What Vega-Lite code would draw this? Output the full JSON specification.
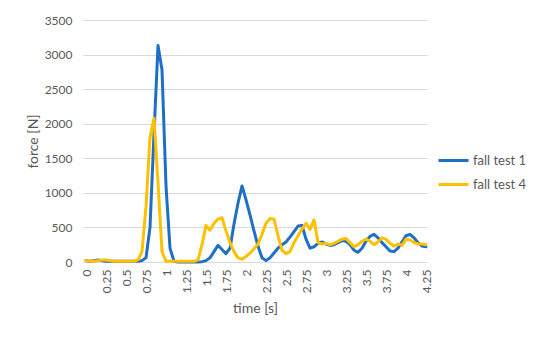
{
  "$schema": "https://vega.github.io/schema/vega-lite/v6.json",
  "width": 344,
  "height": 242,
  "autosize": {"type": "none"},
  "padding": {"left": 83, "top": 20, "right": 123, "bottom": 79},
  "background": "white",
  "config": {
    "font": "Lato",
    "view": {"stroke": null},
    "axis": {"labelColor": "#595959", "titleColor": "#595959", "labelFont": "Lato", "titleFont": "Lato", "titleFontWeight": "normal"}
  },
  "data": {
    "values": [
      {"t": 0, "a": 20, "b": 20},
      {"t": 0.05, "a": 10, "b": 10},
      {"t": 0.1, "a": 20, "b": 10},
      {"t": 0.15, "a": 30, "b": 20},
      {"t": 0.2, "a": 20, "b": 30},
      {"t": 0.25, "a": 10, "b": 30},
      {"t": 0.3, "a": 10, "b": 20},
      {"t": 0.35, "a": 10, "b": 10},
      {"t": 0.4, "a": 10, "b": 10},
      {"t": 0.45, "a": 10, "b": 10},
      {"t": 0.5, "a": 10, "b": 10},
      {"t": 0.55, "a": 10, "b": 10},
      {"t": 0.6, "a": 10, "b": 10},
      {"t": 0.65, "a": 10, "b": 30},
      {"t": 0.7, "a": 20, "b": 150},
      {"t": 0.75, "a": 60, "b": 800},
      {"t": 0.8, "a": 500, "b": 1800},
      {"t": 0.85, "a": 1850, "b": 2080},
      {"t": 0.9, "a": 3130, "b": 1150},
      {"t": 0.95, "a": 2780, "b": 150},
      {"t": 1.0, "a": 1100, "b": 10},
      {"t": 1.05, "a": 200, "b": 10},
      {"t": 1.1, "a": 10, "b": 10},
      {"t": 1.15, "a": 0, "b": 10},
      {"t": 1.2, "a": 0, "b": 10},
      {"t": 1.25, "a": 0, "b": 10},
      {"t": 1.3, "a": 0, "b": 10},
      {"t": 1.35, "a": 0, "b": 10},
      {"t": 1.4, "a": 0, "b": 30},
      {"t": 1.45, "a": 5, "b": 250},
      {"t": 1.5, "a": 20, "b": 530},
      {"t": 1.55, "a": 60, "b": 460},
      {"t": 1.6, "a": 150, "b": 560},
      {"t": 1.65, "a": 240, "b": 620},
      {"t": 1.7, "a": 180, "b": 640},
      {"t": 1.75, "a": 120, "b": 450},
      {"t": 1.8, "a": 200, "b": 280},
      {"t": 1.85, "a": 550, "b": 150},
      {"t": 1.9, "a": 850, "b": 60},
      {"t": 1.95, "a": 1100, "b": 40},
      {"t": 2.0, "a": 900, "b": 80},
      {"t": 2.05, "a": 680, "b": 130},
      {"t": 2.1, "a": 450, "b": 190},
      {"t": 2.15, "a": 230, "b": 260},
      {"t": 2.2, "a": 60, "b": 400},
      {"t": 2.25, "a": 20, "b": 560},
      {"t": 2.3, "a": 60, "b": 630},
      {"t": 2.35, "a": 130, "b": 620},
      {"t": 2.4, "a": 200, "b": 380},
      {"t": 2.45, "a": 250, "b": 170},
      {"t": 2.5, "a": 290, "b": 120},
      {"t": 2.55, "a": 360, "b": 150},
      {"t": 2.6, "a": 440, "b": 280},
      {"t": 2.65, "a": 520, "b": 380},
      {"t": 2.7, "a": 530, "b": 480},
      {"t": 2.75, "a": 330, "b": 560},
      {"t": 2.8, "a": 200, "b": 470},
      {"t": 2.85, "a": 220, "b": 610},
      {"t": 2.9, "a": 270, "b": 280},
      {"t": 2.95, "a": 290, "b": 260},
      {"t": 3.0, "a": 260, "b": 270},
      {"t": 3.05, "a": 240, "b": 250},
      {"t": 3.1, "a": 250, "b": 270},
      {"t": 3.15, "a": 280, "b": 300},
      {"t": 3.2, "a": 310, "b": 330},
      {"t": 3.25, "a": 300, "b": 340},
      {"t": 3.3, "a": 250, "b": 280},
      {"t": 3.35, "a": 170, "b": 220},
      {"t": 3.4, "a": 140, "b": 250},
      {"t": 3.45, "a": 200, "b": 300},
      {"t": 3.5, "a": 300, "b": 330},
      {"t": 3.55, "a": 370, "b": 300},
      {"t": 3.6, "a": 400, "b": 250},
      {"t": 3.65, "a": 350, "b": 290},
      {"t": 3.7, "a": 280, "b": 350},
      {"t": 3.75, "a": 220, "b": 330},
      {"t": 3.8, "a": 160, "b": 270},
      {"t": 3.85, "a": 150, "b": 230},
      {"t": 3.9, "a": 200, "b": 260},
      {"t": 3.95, "a": 290, "b": 240},
      {"t": 4.0, "a": 380, "b": 330},
      {"t": 4.05, "a": 400, "b": 320},
      {"t": 4.1, "a": 350, "b": 280},
      {"t": 4.15, "a": 280, "b": 260},
      {"t": 4.2, "a": 230, "b": 260},
      {"t": 4.25, "a": 220, "b": 250}
    ]
  },
  "transform": [
    {"fold": ["a", "b"], "as": ["key", "force"]},
    {"lookup": "key", "from": {"data": {"values": [{"key": "a", "series": "fall test 1"}, {"key": "b", "series": "fall test 4"}]}, "key": "key", "fields": ["series"]}}
  ],
  "mark": {"type": "line", "strokeWidth": 3, "strokeCap": "round", "strokeJoin": "round"},
  "encoding": {
    "x": {
      "field": "t",
      "type": "quantitative",
      "scale": {"domain": [-0.0375, 4.2625], "nice": false, "zero": false},
      "axis": {
        "title": "time [s]",
        "titleFontSize": 14,
        "titlePadding": 9,
        "values": [0, 0.25, 0.5, 0.75, 1, 1.25, 1.5, 1.75, 2, 2.25, 2.5, 2.75, 3, 3.25, 3.5, 3.75, 4, 4.25],
        "labelExpr": "'' + datum.value",
        "labelAngle": -90,
        "labelFontSize": 12,
        "labelPadding": 7,
        "labelFlush": false,
        "labelOverlap": false,
        "ticks": false,
        "grid": false,
        "domainColor": "#d9d9d9",
        "domainWidth": 1
      }
    },
    "y": {
      "field": "force",
      "type": "quantitative",
      "scale": {"domain": [0, 3500], "nice": false},
      "axis": {
        "title": "force [N]",
        "titleFontSize": 14,
        "titlePadding": 4,
        "values": [0, 500, 1000, 1500, 2000, 2500, 3000, 3500],
        "format": "d",
        "labelFontSize": 12,
        "labelPadding": 11,
        "ticks": false,
        "domain": false,
        "gridColor": "#d9d9d9",
        "gridWidth": 1
      }
    },
    "color": {
      "field": "series",
      "type": "nominal",
      "scale": {"domain": ["fall test 1", "fall test 4"], "range": ["#1f6fc5", "#ffc000"]},
      "legend": {
        "title": null,
        "orient": "none",
        "legendX": 354,
        "legendY": 124,
        "symbolType": "stroke",
        "symbolSize": 900,
        "symbolStrokeWidth": 3,
        "labelFontSize": 13,
        "labelColor": "#595959",
        "labelFont": "Lato",
        "labelOffset": 3,
        "rowPadding": -6
      }
    }
  }
}
